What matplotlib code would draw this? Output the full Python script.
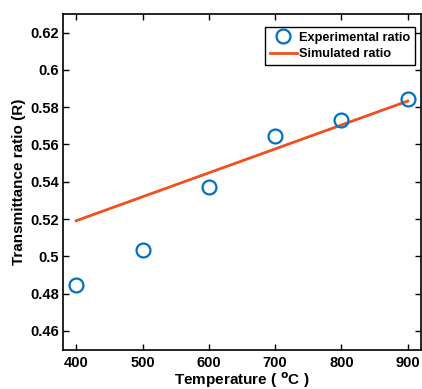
import matplotlib
matplotlib.use("Agg")
import matplotlib.pyplot as plt

plt.rcParams['font.family'] = ['Liberation Sans', 'DejaVu Sans']
plt.rcParams['font.weight'] = 'bold'
plt.rcParams['mathtext.default'] = 'bf'

temperature = [400, 500, 600, 700, 800, 900]
experimental = [0.4847, 0.5034, 0.5372, 0.5647, 0.5731, 0.5844]
sim_temperature = [400, 900]
simulated = [0.5191, 0.5833]
xticks = [400, 500, 600, 700, 800, 900]
yticks = [0.46, 0.48, 0.5, 0.52, 0.54, 0.56, 0.58, 0.6, 0.62]
ytick_labels = ['0.46', '0.48', '0.5', '0.52', '0.54', '0.56', '0.58', '0.6', '0.62']

fig = plt.figure(figsize=(4.22, 3.89), dpi=100)
ax = fig.add_axes([63/422, 1-349.5/389, (421-63)/422, (349.5-14)/389])

ax.plot(temperature, experimental, 'o', markersize=10, markerfacecolor='none',
        markeredgecolor='#0072BD', markeredgewidth=1.6, label='Experimental ratio', zorder=3)
ax.plot(sim_temperature, simulated, '-', color='#F24E1E', linewidth=2.0, label='Simulated ratio')

ax.set_xlim(380, 920)
ax.set_ylim(0.45, 0.63)
ax.set_xticks(xticks)
ax.set_yticks(yticks)
ax.set_yticklabels(ytick_labels)
ax.tick_params(direction='in', top=True, right=True, length=4, width=1, labelsize=10.5)
ax.tick_params(axis='x', pad=5)
ax.tick_params(axis='y', pad=3)
for lbl in ax.get_xticklabels() + ax.get_yticklabels():
    lbl.set_fontweight('bold')
for s in ax.spines.values():
    s.set_linewidth(1.2)

ax.set_xlabel('Temperature ( $^{\\mathbf{o}}$C )', fontsize=11, fontweight='bold', labelpad=0)
ax.set_ylabel('Transmittance ratio (R)', fontsize=11, fontweight='bold', labelpad=3)

leg = ax.legend(loc='upper right', bbox_to_anchor=(0.983, 0.961), fontsize=9.2, frameon=True,
                fancybox=False, edgecolor='black', framealpha=1, borderpad=0.35,
                handlelength=2.1, handletextpad=0.2, labelspacing=0.35, borderaxespad=0)
leg.get_frame().set_linewidth(1.0)
for t in leg.get_texts():
    t.set_fontweight('bold')

fig.savefig('out.png', dpi=100)
